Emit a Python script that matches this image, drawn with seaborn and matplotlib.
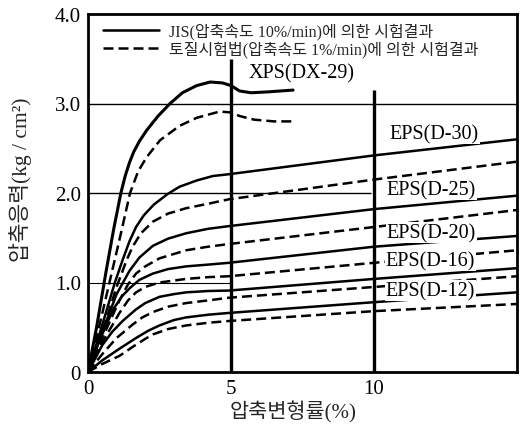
import numpy as np
import pandas as pd
import matplotlib
matplotlib.use("Agg")
import matplotlib.pyplot as plt
from matplotlib.lines import Line2D
import seaborn as sns

# Compression stress-strain curves for XPS / EPS foams
# strain in %, stress in kg/cm2; "jis" = JIS test (10%/min), "soil" = soil test method (1%/min)
xps_jis_x = [0, 0.3, 0.63, 0.9, 1.15, 1.3, 1.45, 1.6, 1.8, 2.05, 2.45, 2.87, 3.3, 3.8, 4.27, 4.7, 5.0, 5.3, 5.7, 6.3, 7.17]
xps_jis_y = [0, 0.50, 1.12, 1.60, 2.00, 2.19, 2.34, 2.46, 2.58, 2.70, 2.86, 3.00, 3.12, 3.20, 3.24, 3.23, 3.20, 3.14, 3.12, 3.13, 3.15]
xps_soil_x = [0, 0.35, 0.75, 1.08, 1.47, 1.75, 2.05, 2.52, 3.2, 3.8, 4.6, 5.0, 5.3, 5.8, 6.5, 7.17]
xps_soil_y = [0, 0.45, 1.00, 1.45, 2.00, 2.24, 2.40, 2.59, 2.75, 2.84, 2.91, 2.90, 2.86, 2.82, 2.80, 2.80]

d30_jis_x = [0, 0.4, 0.94, 1.22, 1.45, 1.68, 1.95, 2.3, 2.79, 3.2, 3.8, 4.37, 4.93, 10, 15]
d30_jis_y = [0, 0.42, 1.00, 1.26, 1.46, 1.62, 1.75, 1.87, 1.99, 2.07, 2.14, 2.19, 2.21, 2.42, 2.60]
d30_soil_x = [0, 0.45, 1.0, 1.35, 1.56, 1.85, 2.27, 2.8, 3.43, 4.2, 4.93, 10, 15]
d30_soil_y = [0, 0.40, 0.95, 1.25, 1.40, 1.55, 1.68, 1.77, 1.83, 1.88, 1.93, 2.15, 2.35]

d25_jis_x = [0, 0.5, 1.0, 1.45, 1.8, 2.27, 2.8, 3.43, 4.2, 4.93, 10, 15]
d25_jis_y = [0, 0.45, 0.87, 1.13, 1.28, 1.41, 1.49, 1.55, 1.60, 1.63, 1.82, 1.97]
d25_soil_x = [0, 0.5, 1.1, 1.4, 1.68, 2.0, 2.5, 3.43, 4.2, 4.93, 10, 15]
d25_soil_y = [0, 0.38, 0.80, 0.98, 1.10, 1.18, 1.27, 1.36, 1.40, 1.43, 1.62, 1.81]

d20_jis_x = [0, 0.4, 0.88, 1.2, 1.47, 1.8, 2.27, 2.8, 3.43, 4.2, 4.93, 10, 15]
d20_jis_y = [0, 0.35, 0.70, 0.85, 0.94, 1.03, 1.10, 1.15, 1.18, 1.20, 1.22, 1.40, 1.52]
d20_soil_x = [0, 0.5, 1.1, 1.4, 1.68, 2.0, 2.5, 3.43, 4.2, 4.93, 10, 15]
d20_soil_y = [0, 0.33, 0.66, 0.80, 0.89, 0.95, 1.00, 1.04, 1.06, 1.07, 1.22, 1.36]

d16_jis_x = [0, 0.5, 0.85, 1.21, 1.68, 2.0, 2.5, 3.0, 3.43, 4.2, 4.93, 10, 15]
d16_jis_y = [0, 0.30, 0.45, 0.57, 0.70, 0.77, 0.84, 0.87, 0.89, 0.905, 0.91, 1.04, 1.16]
d16_soil_x = [0, 0.5, 1.0, 1.56, 1.9, 2.27, 2.8, 3.43, 4.2, 4.93, 10, 15]
d16_soil_y = [0, 0.20, 0.38, 0.53, 0.61, 0.67, 0.73, 0.77, 0.80, 0.83, 0.95, 1.07]

d12_jis_x = [0, 0.5, 1.1, 1.68, 2.1, 2.5, 3.0, 3.43, 4.2, 4.93, 10, 15]
d12_jis_y = [0, 0.13, 0.26, 0.38, 0.46, 0.52, 0.58, 0.61, 0.64, 0.66, 0.78, 0.89]
d12_soil_x = [0, 0.5, 1.1, 1.56, 2.0, 2.27, 2.8, 3.43, 4.2, 4.93, 10, 15]
d12_soil_y = [0, 0.09, 0.18, 0.28, 0.37, 0.42, 0.48, 0.52, 0.55, 0.57, 0.68, 0.76]

materials = ["XPS(DX-29)", "EPS(D-30)", "EPS(D-25)", "EPS(D-20)", "EPS(D-16)", "EPS(D-12)"]
label_x = [5.6, 10.55, 10.45, 10.45, 10.4, 10.4]
label_y = [3.34, 2.66, 2.04, 1.56, 1.24, 0.91]

legend_labels = ["JIS(압축속도 10%/min)에 의한 시험결과",
                 "토질시험법(압축속도 1%/min)에 의한 시험결과"]

x_ticks = [0, 5, 10]
y_ticks = [0, 1, 2, 3, 4]
y_tick_labels = ["0", "1.0", "2.0", "3.0", "4.0"]

series = [
    ("XPS(DX-29)", "jis", xps_jis_x, xps_jis_y),
    ("XPS(DX-29)", "soil", xps_soil_x, xps_soil_y),
    ("EPS(D-30)", "jis", d30_jis_x, d30_jis_y),
    ("EPS(D-30)", "soil", d30_soil_x, d30_soil_y),
    ("EPS(D-25)", "jis", d25_jis_x, d25_jis_y),
    ("EPS(D-25)", "soil", d25_soil_x, d25_soil_y),
    ("EPS(D-20)", "jis", d20_jis_x, d20_jis_y),
    ("EPS(D-20)", "soil", d20_soil_x, d20_soil_y),
    ("EPS(D-16)", "jis", d16_jis_x, d16_jis_y),
    ("EPS(D-16)", "soil", d16_soil_x, d16_soil_y),
    ("EPS(D-12)", "jis", d12_jis_x, d12_jis_y),
    ("EPS(D-12)", "soil", d12_soil_x, d12_soil_y),
]
df = pd.concat(
    [pd.DataFrame({"material": m, "method": meth, "strain": xs, "stress": ys})
     for m, meth, xs, ys in series],
    ignore_index=True,
)

sns.set_style("white")
plt.rcParams["font.family"] = ["Liberation Serif", "Noto Sans CJK KR"]
plt.rcParams["axes.unicode_minus"] = False

fig = plt.figure(figsize=(5.26, 4.27), dpi=100)
ax = fig.add_axes([88 / 526, 1 - 373 / 427, 429 / 526, 358 / 427])

line_styles = {"jis": "-", "soil": (0, (4, 2))}
for (m, meth), grp in df.groupby(["material", "method"], sort=False):
    lw = 2.2 if m.startswith("XPS") and meth == "jis" else 1.8
    sns.lineplot(data=grp, x="strain", y="stress", estimator=None, sort=False,
                 color="black", linewidth=lw, linestyle=line_styles[meth],
                 legend=False, ax=ax)

# reference grid
ax.hlines(3.0, 0, 15, color="black", lw=1.0)
ax.hlines(2.0, 0, 9.9, color="black", lw=1.0)
ax.hlines(1.0, 0, 5.0, color="black", lw=0.8)
ax.vlines(5, 0, 3.5, color="black", lw=2.4)
ax.vlines(10, 0, 3.15, color="black", lw=2.4)

for name, lx, ly in zip(materials, label_x, label_y):
    ax.text(lx, ly, name, fontsize=14.5, ha="left", va="center", color="black",
            bbox=dict(facecolor="white", edgecolor="none", pad=0.6), zorder=5)

ax.set_xlim(0, 15)
ax.set_ylim(0, 4.0)
ax.set_xticks(x_ticks)
ax.set_xticklabels([str(t) for t in x_ticks])
ax.set_yticks(y_ticks)
ax.set_yticklabels(y_tick_labels)
ax.tick_params(axis="both", length=0, labelsize=15, colors="black")
ax.tick_params(axis="x", pad=5)
ax.tick_params(axis="y", pad=5)

for sp in ax.spines.values():
    sp.set_visible(True)
    sp.set_color("black")
    sp.set_linewidth(2.0)

ax.set_xlabel("압축변형률(%)", fontsize=15)
ax.set_ylabel("압축응력(kg / cm²)", fontsize=15.5)
ax.xaxis.set_label_coords(0.478, -0.078)
ax.yaxis.set_label_coords(-0.13, 0.54)

handles = [Line2D([], [], color="black", lw=1.8, linestyle="-"),
           Line2D([], [], color="black", lw=1.8, linestyle=(0, (4, 2)))]
ax.legend(handles, legend_labels, loc="upper left", bbox_to_anchor=(0.035, 0.975),
          frameon=False, fontsize=11.5, handlelength=3.5, handletextpad=0.6,
          labelspacing=0.05, borderpad=0, borderaxespad=0)

fig.savefig("out.png", dpi=100)
